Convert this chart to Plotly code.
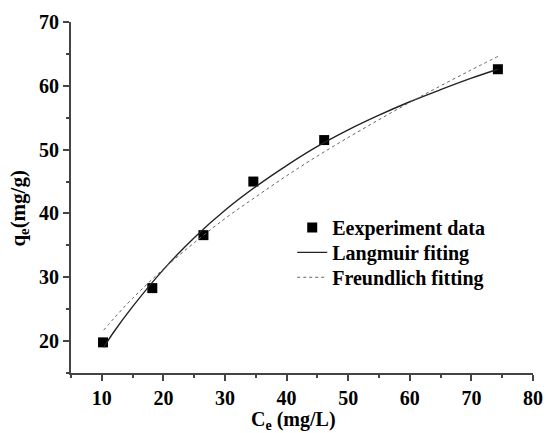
import plotly.graph_objects as go

# Experimental data
ce_exp = [10.2, 18.2, 26.5, 34.6, 46.1, 74.3]
qe_exp = [19.8, 28.3, 36.6, 45.0, 51.5, 62.6]

# Fitted curves
ce_fit = [10.3, 12, 15, 20, 25, 30, 35, 40, 45, 50, 55, 60, 65, 70, 74.3]
qe_langmuir = [19.0, 21.5, 25.4, 31.2, 36.2, 40.5, 44.2, 47.5, 50.5, 53.1, 55.4, 57.5, 59.4, 61.2, 62.6]
qe_freundlich = [21.7, 23.6, 26.7, 31.3, 35.4, 39.2, 42.6, 45.9, 49.0, 51.9, 54.7, 57.4, 60.0, 62.5, 64.6]

x_ticks = [10, 20, 30, 40, 50, 60, 70, 80]
y_ticks = [20, 30, 40, 50, 60, 70]

FONT = "Liberation Serif, Times New Roman, serif"

fig = go.Figure()
fig.add_trace(go.Scatter(
    x=ce_exp, y=qe_exp, mode="markers", name="<b>Eexperiment data</b>",
    marker=dict(symbol="square", size=10, color="black"), legend="legend",
))
fig.add_trace(go.Scatter(
    x=ce_fit, y=qe_langmuir, mode="lines", name="<b>Langmuir fiting</b>",
    line=dict(color="#222222", width=1.4, shape="spline"), legend="legend2",
))
fig.add_trace(go.Scatter(
    x=ce_fit, y=qe_freundlich, mode="lines", name="<b>Freundlich fitting</b>",
    line=dict(color="#666666", width=1, dash="dot", shape="spline"), legend="legend3",
))

axis_common = dict(
    showgrid=False, zeroline=False, showline=True, linecolor="#444444", linewidth=2,
    ticks="outside", ticklen=6, tickwidth=2, tickcolor="#444444",
    tickfont=dict(family=FONT, size=20, color="black"),
)

def leg(yc):
    return dict(
        x=(297 - 71) / 472, y=(373 - yc) / 352, xanchor="left", yanchor="middle",
        bgcolor="rgba(0,0,0,0)", borderwidth=0,
        font=dict(family=FONT, size=20, color="black"), itemwidth=30,
    )

fig.update_layout(
    width=554, height=433,
    margin=dict(l=71, r=11, t=21, b=60),
    paper_bgcolor="white", plot_bgcolor="white",
    font=dict(family=FONT, color="black"),
    showlegend=True,
    legend=leg(227), legend2=leg(252), legend3=leg(277),
    xaxis=dict(
        range=[5, 80], tickvals=x_ticks, ticktext=[f"<b>{v}</b>" for v in x_ticks],
        minor=dict(dtick=5, ticks="outside", ticklen=3, tickwidth=2, tickcolor="#444444"),
        **axis_common,
    ),
    yaxis=dict(
        range=[15, 70], tickvals=y_ticks, ticktext=[f"<b>{v}</b>" for v in y_ticks],
        minor=dict(dtick=5, ticks="outside", ticklen=3, tickwidth=2, tickcolor="#444444"),
        **axis_common,
    ),
    annotations=[
        dict(text="<b>C<sub>e</sub> (mg/L)</b>", xref="paper", yref="paper",
             x=(298 - 71) / 472, y=-(421 - 373) / 352, xanchor="center", yanchor="middle",
             showarrow=False, borderpad=0,
             font=dict(family=FONT, size=20, color="black")),
        dict(text="<b>q<sub>e</sub>(mg/g)</b>", xref="paper", yref="paper",
             x=(18 - 71) / 472, y=(373 - 208) / 352, xanchor="center", yanchor="middle",
             textangle=-90, showarrow=False, font=dict(family=FONT, size=21, color="black")),
    ],
)

fig.write_html("out.html")
